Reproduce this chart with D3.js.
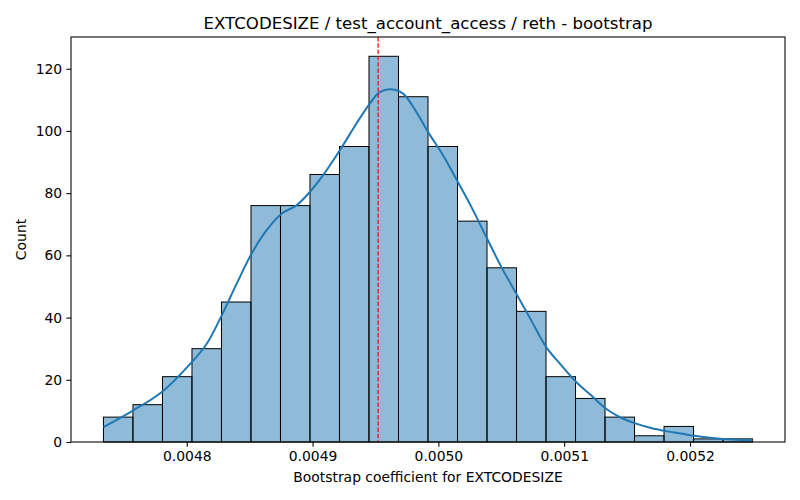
<!DOCTYPE html>
<html>
<head>
<meta charset="utf-8">
<script src="https://cdn.jsdelivr.net/npm/d3@7/dist/d3.min.js"></script>
<style>
  html, body { margin: 0; padding: 0; background: #fff; }
  svg { display: block; font-family: "DejaVu Sans", sans-serif; }
</style>
</head>
<body>
<svg id="chart" width="800" height="500"></svg>
<script>
// ---- data ----
const titleText = "EXTCODESIZE / test_account_access / reth - bootstrap";
const xLabel = "Bootstrap coefficient for EXTCODESIZE";
const yLabel = "Count";

const binStart = 0.0047338;
const binWidth = 0.00002345;
const counts = [8, 12, 21, 30, 45, 76, 76, 86, 95, 124, 111, 95, 71, 56, 42, 21, 14, 8, 2, 5, 1, 1];

const kdeX = [0.0047338, 0.0047576, 0.0047802, 0.0048040, 0.0048159, 0.0048278, 0.0048397, 0.0048516,
  0.0048635, 0.0048754, 0.0048873, 0.0048979, 0.0049084, 0.0049217, 0.0049349, 0.0049455, 0.0049534,
  0.0049627, 0.0049719, 0.0049825, 0.0049917, 0.0050037, 0.0050148, 0.0050262, 0.0050381, 0.0050500,
  0.0050619, 0.0050738, 0.0050857, 0.0050976, 0.0051095, 0.0051214, 0.0051333, 0.0051452, 0.0051571,
  0.0051690, 0.0051810, 0.0051929, 0.0052048, 0.0052179, 0.0052338, 0.0052497];
const kdeY = [4.8, 10.2, 16.1, 25.7, 31.6, 40.7, 50.9, 60.6,
  68.1, 73.4, 76.1, 80.4, 85.8, 93.8, 102.4, 108.8, 112.5,
  113.4, 112.0, 106.1, 99.7, 92.2, 84.1, 75.6, 65.9, 56.3,
  47.7, 39.1, 30.5, 24.7, 19.3, 15.0, 10.7, 7.8, 5.9,
  4.5, 3.5, 2.7, 1.9, 1.3, 0.8, 0.55];

const meanValue = 0.0049521;
const xTicks = [0.0048, 0.0049, 0.0050, 0.0051, 0.0052];
const yTicks = [0, 20, 40, 60, 80, 100, 120];

// ---- layout ----
const W = 800, H = 500;
const M = { left: 71, right: 785, top: 37, bottom: 442 };
const tickFont = "13.9px", titleFont = "16.6px";

const bins = counts.map((c, i) => ({ x0: binStart + i * binWidth, x1: binStart + (i + 1) * binWidth, c }));
const dataMin = bins[0].x0, dataMax = bins[bins.length - 1].x1;
const pad = (dataMax - dataMin) * 0.05;
const x = d3.scaleLinear().domain([dataMin - pad, dataMax + pad]).range([M.left, M.right]);
const yMax = d3.max(counts) * 1.05;
const y = d3.scaleLinear().domain([0, yMax]).range([M.bottom, M.top]);

const svg = d3.select("#chart");

// bars
svg.append("g").selectAll("rect").data(bins).join("rect")
  .attr("x", d => x(d.x0))
  .attr("y", d => y(d.c))
  .attr("width", d => x(d.x1) - x(d.x0))
  .attr("height", d => y(0) - y(d.c))
  .attr("fill", "rgba(31,119,180,0.5)")
  .attr("stroke", "#000")
  .attr("stroke-width", 1);

// KDE
const kde = kdeX.map((v, i) => [v, kdeY[i]]);
svg.append("path").datum(kde)
  .attr("d", d3.line().x(d => x(d[0])).y(d => y(d[1])).curve(d3.curveCatmullRom))
  .attr("fill", "none")
  .attr("stroke", "#1f77b4")
  .attr("stroke-width", 2);

// mean line
svg.append("line")
  .attr("x1", x(meanValue)).attr("x2", x(meanValue))
  .attr("y1", M.top).attr("y2", M.bottom)
  .attr("stroke", "red").attr("stroke-width", 1.2)
  .attr("stroke-dasharray", "4.4,1.9");

// axes
const xAxis = d3.axisBottom(x).tickValues(xTicks).tickFormat(d3.format(".4f")).tickSize(4.67).tickPadding(4.2);
const yAxis = d3.axisLeft(y).tickValues(yTicks).tickFormat(d3.format("d")).tickSize(4.67).tickPadding(4.2);

const gx = svg.append("g").attr("transform", `translate(0,${M.bottom})`).call(xAxis);
const gy = svg.append("g").attr("transform", `translate(${M.left},0)`).call(yAxis);
[gx, gy].forEach(g => {
  g.select(".domain").remove();
  g.selectAll(".tick line").attr("stroke", "#000").attr("stroke-width", 1.07);
  g.selectAll(".tick text").attr("fill", "#000").style("font-size", tickFont).style("font-family", "DejaVu Sans");
});

// frame
svg.append("rect")
  .attr("x", M.left).attr("y", M.top)
  .attr("width", M.right - M.left).attr("height", M.bottom - M.top)
  .attr("fill", "none").attr("stroke", "#000").attr("stroke-width", 1.07);

// title & labels
svg.append("text")
  .attr("x", (M.left + M.right) / 2).attr("y", 29)
  .attr("text-anchor", "middle")
  .style("font-size", titleFont).attr("fill", "#000")
  .text(titleText);

svg.append("text")
  .attr("x", (M.left + M.right) / 2).attr("y", 482)
  .attr("text-anchor", "middle")
  .style("font-size", tickFont).attr("fill", "#000")
  .text(xLabel);

svg.append("text")
  .attr("transform", `translate(26,${(M.top + M.bottom) / 2}) rotate(-90)`)
  .attr("text-anchor", "middle")
  .style("font-size", tickFont).attr("fill", "#000")
  .text(yLabel);
</script>
</body>
</html>
